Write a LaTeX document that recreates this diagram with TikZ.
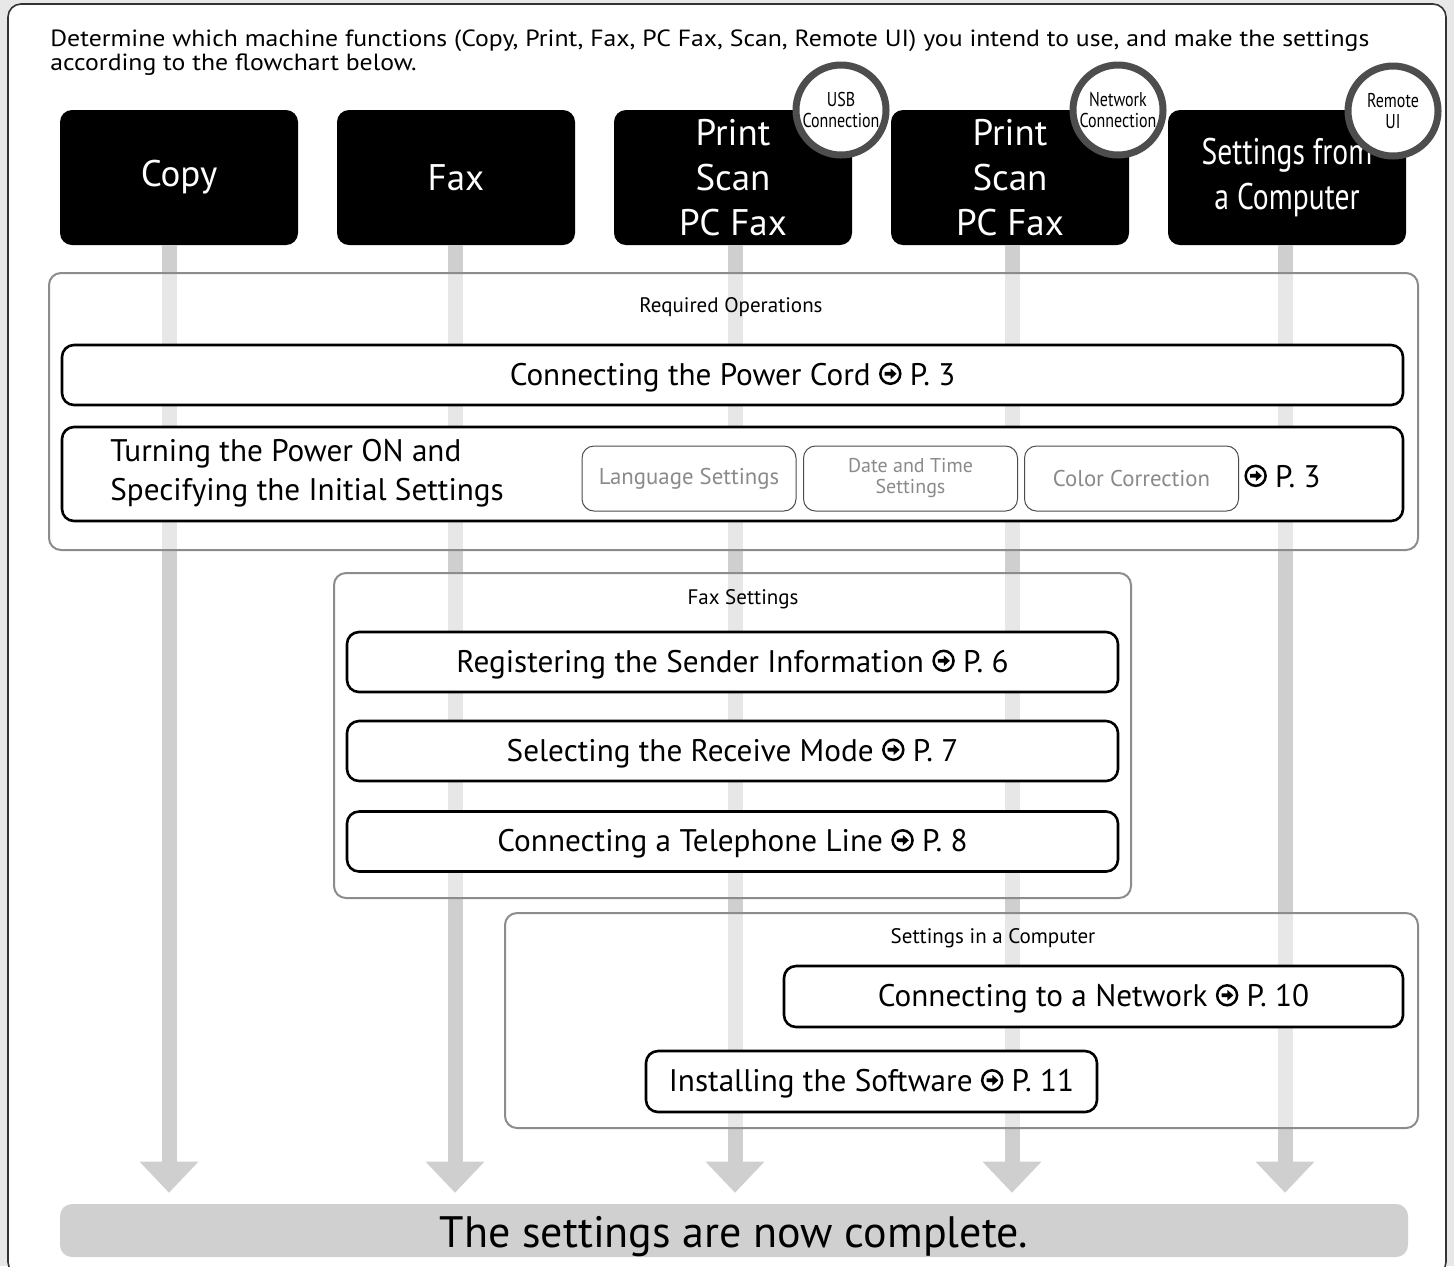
\documentclass[tikz,border=0pt]{standalone}
\usepackage{fontspec}
\setmainfont{PT Sans}
\newfontfamily\condfont[FakeStretch=0.8]{PT Sans}
\newfontfamily\introfont[FakeStretch=1.1]{PT Sans}
\usetikzlibrary{arrows.meta}

\definecolor{pagegray}{HTML}{E8E8E8}
\definecolor{flowgray}{HTML}{CFCFCF}
\definecolor{groupline}{HTML}{8C8C8C}
\definecolor{ringgray}{HTML}{4D4D4D}
\definecolor{subtext}{HTML}{8A8A8A}
\definecolor{donegray}{HTML}{D0D0D0}

% circled arrow before a page number
\newcommand{\gopage}{\tikz[baseline=-0.36em, sharp corners]{%
    \draw[line width=0.08em] (0,0) circle (0.32em);
    \fill (-0.18em,0.06em) -- (0.01em,0.06em) -- (0.01em,0.17em) -- (0.2em,0em)
        -- (0.01em,-0.17em) -- (0.01em,-0.06em) -- (-0.18em,-0.06em) -- cycle;}}

\begin{document}
\begin{tikzpicture}[x=0.5pt, y=-0.5pt,
    headbox/.style={fill=black, text=white, rounded corners=6pt, inner sep=0pt,
        minimum width=119pt, minimum height=67.5pt, align=center,
        font=\fontsize{18.5}{22.5}\selectfont},
    badge/.style={circle, draw=ringgray, line width=3.5pt, fill=white, minimum size=45pt,
        inner sep=0pt, align=center, font=\condfont\fontsize{10}{10.5}\selectfont},
    flowline/.style={draw=flowgray, line width=7.5pt,
        -{Triangle[width=29.5pt, length=15.5pt, line width=0pt]}},
    groupbox/.style={draw=groupline, line width=1pt, rounded corners=6pt, fill=white, fill opacity=0.5},
    grouplabel/.style={font=\fontsize{10.5}{12}\selectfont},
    stepbox/.style={draw=black, line width=1.3pt, fill=white, rounded corners=6pt,
        text height=13.4pt, text depth=3.4pt, font=\fontsize{15.6}{19.5}\selectfont},
    subbox/.style={draw=black!70, line width=0.5pt, fill=white, rounded corners=6pt,
        minimum width=107pt, minimum height=32.5pt, text=subtext, align=center,
        font=\fontsize{11.4}{10.5}\selectfont}]
    % Page and frame
    \useasboundingbox (0,0) rectangle (1454,1266);
    \clip (0,0) rectangle (1454,1266);
    \fill[pagegray] (0,0) rectangle (1454,1266);
    \draw[black!80, line width=0.8pt, fill=white, rounded corners=6.5pt] (8,4) rectangle (1446,1275);

    \node[anchor=west, align=left, inner sep=0pt, font=\introfont\fontsize{11.7}{12}\selectfont] (intro) at (50,53)
        {Determine which machine functions (Copy, Print, Fax, PC Fax, Scan, Remote UI) you intend to use, and make the settings\\according to the flowchart below.};

    % Function headers
    \node[headbox] (copy) at (179,177.5) {Copy};
    \node[headbox] (fax) at (456,177.5) {Fax};
    \node[headbox] (usb) at (733,177.5) {Print\\Scan\\PC Fax};
    \node[headbox] (net) at (1010,177.5) {Print\\Scan\\PC Fax};
    \node[headbox, font=\condfont\fontsize{18.5}{22.5}\selectfont] (remote) at (1287,177.5) {Settings from\\a Computer};

    % End bar
    \node[fill=donegray, rounded corners=6pt, minimum width=674pt, minimum height=26.5pt, inner sep=0pt,
        text height=21.3pt, text depth=4.8pt, font=\fontsize{22}{24}\selectfont] (done) at (734,1230.5)
        {The settings are now complete.};

    % Flow lines
    \foreach \n/\x in {copy/169, fax/455, usb/735, net/1012, remote/1285}{
        \coordinate (x\n) at (\x,0);
        \draw[flowline, shorten >=5.5pt] (\n.south -| x\n) -- (x\n |- done.north);
    }

    % Required operations
    \node[groupbox, minimum width=684.5pt, minimum height=138.5pt] (required) at (733.5,411.5) {};
    \node[grouplabel] (requiredlabel) at (731,307) {Required Operations};
    \node[stepbox, minimum width=670.5pt, minimum height=30pt] (powercord) at (732.5,375)
        {Connecting the Power Cord \gopage\ P. 3};
    \node[stepbox, minimum width=670.5pt, minimum height=47pt] (poweron) at (732.5,474) {};
    \node[anchor=west, align=left, inner sep=0pt, font=\fontsize{15.6}{19.5}\selectfont] (powerontext) at (110,473)
        {Turning the Power ON and\\Specifying the Initial Settings};
    \node[subbox] (language) at (689,478.5) {Language Settings};
    \node[subbox, font=\fontsize{10}{10.5}\selectfont] (datetime) at (910.5,478.5) {Date and Time\\Settings};
    \node[subbox] (colorfix) at (1131.5,478.5) {Color Correction};
    \node[anchor=west, inner sep=0pt, font=\fontsize{15.6}{18}\selectfont] (poweronref) at (1244,476) {\gopage\ P. 3};

    % Fax settings
    \node[groupbox, minimum width=398.5pt, minimum height=162.5pt] (faxgroup) at (732.5,735.5) {};
    \node[grouplabel] (faxlabel) at (743,599) {Fax Settings};
    \node[stepbox, minimum width=385.5pt, minimum height=30pt] (sender) at (732.5,662)
        {Registering the Sender Information \gopage\ P. 6};
    \node[stepbox, minimum width=385.5pt, minimum height=30pt] (receive) at (732.5,751)
        {Selecting the Receive Mode \gopage\ P. 7};
    \node[stepbox, minimum width=385.5pt, minimum height=30pt] (telline) at (732.5,841.5)
        {Connecting a Telephone Line \gopage\ P. 8};

    % Settings in a computer
    \node[groupbox, minimum width=456.5pt, minimum height=107.5pt] (pcgroup) at (961.5,1020.5) {};
    \node[grouplabel] (pclabel) at (993,938) {Settings in a Computer};
    \node[stepbox, minimum width=309.5pt, minimum height=30.5pt] (network) at (1093.5,996.5)
        {Connecting to a Network \gopage\ P. 10};
    \node[stepbox, minimum width=225.5pt, minimum height=30.5pt] (software) at (871.5,1081.5)
        {Installing the Software \gopage\ P. 11};

    % Connection badges
    \node[badge] (usbbadge) at (841,110) {USB\\Connection};
    \node[badge] (netbadge) at (1118,110) {Network\\Connection};
    \node[badge] (remotebadge) at (1393,111) {Remote\\UI};
\end{tikzpicture}
\end{document}
